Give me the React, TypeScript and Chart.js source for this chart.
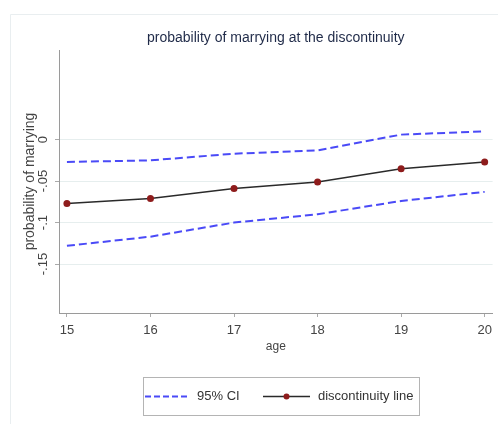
import React, { useEffect, useRef } from "react";
import { Chart, registerables } from "chart.js";

Chart.register(...registerables);

const ages = [15, 16, 17, 18, 19, 20];
const discontinuity = [-0.077, -0.071, -0.059, -0.051, -0.035, -0.027];
const ciUpper = [-0.027, -0.025, -0.017, -0.013, 0.006, 0.01];
const ciLower = [-0.128, -0.117, -0.1, -0.09, -0.074, -0.063];
const yTicks = [-0.15, -0.1, -0.05, 0];
const yTickLabels = ["-.15", "-.1", "-.05", "0"];
const xTicks = [15, 16, 17, 18, 19, 20];

const FONT = "'Liberation Sans', Arial, Helvetica, sans-serif";
const CI_COLOR = "#4a4af7";
const LINE_COLOR = "#2a2a2a";
const MARKER_COLOR = "#8e1c1c";

const framePlugin = {
  id: "frame",
  beforeDraw(chart: any) {
    const { ctx, width, height } = chart;
    ctx.save();
    ctx.fillStyle = "#ffffff";
    ctx.fillRect(0, 0, width, height);
    ctx.strokeStyle = "#e9eef0";
    ctx.lineWidth = 1;
    ctx.beginPath();
    ctx.moveTo(10.5, height);
    ctx.lineTo(10.5, 14.5);
    ctx.lineTo(width, 14.5);
    ctx.stroke();
    ctx.restore();
  },
};

const legendPlugin = {
  id: "boxLegend",
  afterDraw(chart: any) {
    const { ctx } = chart;
    const bx = 143.5, by = 377.5, bw = 276, bh = 38;
    const cy = by + bh / 2;
    ctx.save();
    ctx.strokeStyle = "#b4b4b4";
    ctx.lineWidth = 1;
    ctx.strokeRect(bx, by, bw, bh);
    // CI item
    const ds0 = chart.data.datasets[0];
    ctx.strokeStyle = CI_COLOR;
    ctx.lineWidth = 2;
    ctx.setLineDash([6, 3]);
    ctx.beginPath();
    ctx.moveTo(145, cy);
    ctx.lineTo(190, cy);
    ctx.stroke();
    ctx.setLineDash([]);
    ctx.fillStyle = "#333333";
    ctx.font = `13px ${FONT}`;
    ctx.textBaseline = "middle";
    ctx.textAlign = "left";
    ctx.fillText(ds0.label, 197, cy);
    // line item
    const ds2 = chart.data.datasets[2];
    ctx.strokeStyle = LINE_COLOR;
    ctx.lineWidth = 1.5;
    ctx.beginPath();
    ctx.moveTo(263, cy);
    ctx.lineTo(310, cy);
    ctx.stroke();
    ctx.fillStyle = MARKER_COLOR;
    ctx.beginPath();
    ctx.arc(286.5, cy, 3, 0, Math.PI * 2);
    ctx.fill();
    ctx.fillStyle = "#333333";
    ctx.fillText(ds2.label, 318, cy);
    ctx.restore();
  },
};

export default function App() {
  const ref = useRef<HTMLCanvasElement | null>(null);
  useEffect(() => {
    if (!ref.current) return;
    const toPts = (vals: number[]) => ages.map((a, i) => ({ x: a, y: vals[i] }));
    const chart = new Chart(ref.current, {
      type: "line",
      data: {
        datasets: [
          {
            label: "95% CI",
            data: toPts(ciUpper),
            borderColor: CI_COLOR,
            borderWidth: 2,
            borderDash: [8, 4],
            pointRadius: 0,
            fill: false,
            tension: 0,
          },
          {
            label: "95% CI",
            data: toPts(ciLower),
            borderColor: CI_COLOR,
            borderWidth: 2,
            borderDash: [8, 4],
            pointRadius: 0,
            fill: false,
            tension: 0,
          },
          {
            label: "discontinuity line",
            data: toPts(discontinuity),
            borderColor: LINE_COLOR,
            borderWidth: 1.5,
            pointRadius: 3.5,
            pointBackgroundColor: MARKER_COLOR,
            pointBorderColor: MARKER_COLOR,
            pointBorderWidth: 0,
            fill: false,
            tension: 0,
          },
        ],
      },
      options: {
        responsive: false,
        animation: false,
        layout: { padding: { left: 0, top: 0, right: 2, bottom: 61 } },
        plugins: {
          legend: { display: false },
          tooltip: { enabled: false },
          title: {
            display: true,
            fullSize: false,
            text: "probability of marrying at the discontinuity",
            color: "#1f2a48",
            font: { family: FONT, size: 14, weight: "normal", lineHeight: 1.2 },
            padding: { top: 29.6, bottom: 3.6 },
          },
        },
        scales: {
          x: {
            type: "linear",
            min: 14.905,
            max: 20.095,
            afterBuildTicks: (scale: any) => {
              scale.ticks = xTicks.map((v) => ({ value: v }));
            },
            afterFit: (scale: any) => {
              scale.height = 50;
            },
            ticks: {
              color: "#444444",
              font: { family: FONT, size: 13 },
              padding: 6,
              maxRotation: 0,
              autoSkip: false,
              callback: (v: any) => String(v),
            },
            grid: {
              drawOnChartArea: false,
              drawTicks: true,
              tickLength: 4,
              tickColor: "#aaaaaa",
            },
            border: { display: true, color: "#9a9a9a", width: 1 },
            title: {
              display: true,
              text: "age",
              color: "#444444",
              font: { family: FONT, size: 12 },
              padding: { top: 0, bottom: 8.8 },
            },
          },
          y: {
            type: "linear",
            min: -0.209,
            max: 0.108,
            afterBuildTicks: (scale: any) => {
              scale.ticks = yTicks.map((v) => ({ value: v }));
            },
            afterFit: (scale: any) => {
              scale.width = 59;
            },
            ticks: {
              color: "#444444",
              font: { family: FONT, size: 13 },
              padding: 0,
              minRotation: 90,
              maxRotation: 90,
              crossAlign: "center",
              autoSkip: false,
              callback: (v: any) => {
                const i = yTicks.findIndex((t) => Math.abs(t - Number(v)) < 1e-9);
                return i >= 0 ? yTickLabels[i] : "";
              },
            },
            grid: {
              color: "#e6eeee",
              drawTicks: true,
              tickLength: 4,
              tickColor: "#aaaaaa",
            },
            border: { display: true, color: "#9a9a9a", width: 1 },
            title: {
              display: true,
              text: "probability of marrying",
              color: "#444444",
              font: { family: FONT, size: 14 },
              padding: { top: 21.6, bottom: 0 },
            },
          },
        },
      },
      plugins: [framePlugin, legendPlugin],
    });
    return () => chart.destroy();
  }, []);
  return (
    <div style={{ position: "absolute", left: 0, top: 0, width: 498, height: 424 }}>
      <canvas ref={ref} width={498} height={424} />
    </div>
  );
}
